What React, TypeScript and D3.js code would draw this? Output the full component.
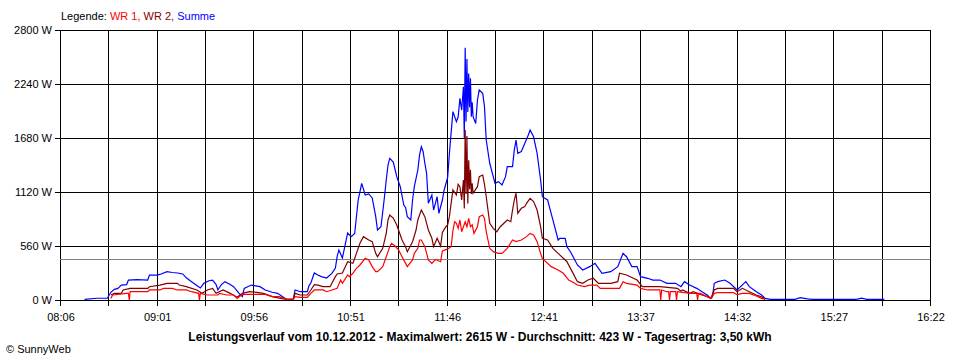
import React from 'react'
import * as d3 from 'd3'

// Achsen / Beschriftungen
const yTicks = [0, 560, 1120, 1680, 2240, 2800]
const xTickLabels = ['08:06', '09:01', '09:56', '10:51', '11:46', '12:41', '13:37', '14:32', '15:27', '16:22']
const timeStart = '08:06'
const timeEnd = '16:22'
const average = 423
const titleText = 'Leistungsverlauf vom 10.12.2012 - Maximalwert: 2615 W - Durchschnitt: 423 W - Tagesertrag: 3,50 kWh'

// Summe (blau)
const summe: [string, number][] = [
  ['08:20', 7], ['08:27', 18], ['08:33', 18], ['08:35', 80], ['08:37', 110], ['08:39', 120], ['08:41', 155], ['08:44', 160],
  ['08:45', 207], ['08:50', 212], ['08:56', 207], ['08:57', 259], ['09:01', 259], ['09:03', 265], ['09:07', 294], ['09:10', 285],
  ['09:13', 280], ['09:16', 270], ['09:18', 230], ['09:21', 190], ['09:24', 150], ['09:26', 124], ['09:28', 173], ['09:31', 200],
  ['09:33', 207], ['09:35', 160], ['09:36', 104], ['09:38', 160], ['09:40', 190], ['09:43', 160], ['09:45', 138], ['09:48', 72],
  ['09:50', 35], ['09:51', 121], ['09:55', 155], ['10:00', 138], ['10:03', 104], ['10:07', 80], ['10:10', 69], ['10:13', 35],
  ['10:15', 7], ['10:19', 7], ['10:20', 104], ['10:23', 86], ['10:27', 86], ['10:28', 150], ['10:29', 176], ['10:31', 280],
  ['10:33', 259], ['10:35', 242], ['10:38', 228], ['10:41', 276], ['10:43', 331], ['10:44', 450], ['10:45', 519], ['10:47', 436],
  ['10:50', 695], ['10:52', 657], ['10:54', 690], ['10:56', 1037], ['10:58', 1210], ['11:00', 1089], ['11:02', 1100], ['11:04', 1058],
  ['11:06', 864], ['11:07', 726], ['11:09', 760], ['11:11', 1071], ['11:12', 1245], ['11:13', 1400], ['11:14', 1469], ['11:16', 1430],
  ['11:18', 1279], ['11:20', 1175], ['11:22', 985], ['11:23', 960], ['11:24', 864], ['11:26', 830], ['11:27', 1037], ['11:28', 1175],
  ['11:30', 1348], ['11:31', 1504], ['11:32', 1590], ['11:33', 1540], ['11:34', 1418], ['11:35', 1314], ['11:36', 1003], ['11:38', 1089],
  ['11:39', 933], ['11:41', 1071], ['11:42', 898], ['11:44', 1037], ['11:45', 1141], ['11:47', 1270], ['11:48', 1521], ['11:50', 1953],
  ['11:52', 1849], ['11:53', 1900], ['11:54', 2091], ['11:55', 1970], ['11:56', 2212], ['11:56:30', 1680], ['11:57', 2615], ['11:57:30', 1850],
  ['11:58', 2500], ['11:58:30', 1950], ['11:59', 2350], ['11:59:30', 2000], ['12:00', 2300], ['12:00:30', 1900], ['12:01', 2050], ['12:01:30', 1901],
  ['12:03', 1831], ['12:04', 2074], ['12:05', 2178], ['12:07', 2143], ['12:08', 2004], ['12:09', 1659], ['12:11', 1418], ['12:13', 1279],
  ['12:14', 1210], ['12:16', 1227], ['12:18', 1193], ['12:20', 1279], ['12:21', 1383], ['12:24', 1383], ['12:25', 1556], ['12:26', 1659],
  ['12:27', 1521], ['12:29', 1540], ['12:31', 1625], ['12:33', 1711], ['12:34', 1763], ['12:36', 1694], ['12:38', 1521], ['12:40', 1245],
  ['12:41', 1071], ['12:44', 1037], ['12:47', 830], ['12:50', 622], ['12:51', 640], ['12:54', 640], ['12:55', 553], ['12:57', 501],
  ['13:01', 363], ['13:04', 311], ['13:08', 346], ['13:11', 380], ['13:15', 277], ['13:20', 294], ['13:24', 346], ['13:27', 484],
  ['13:29', 449], ['13:32', 346], ['13:35', 346], ['13:37', 242], ['13:41', 225], ['13:44', 207], ['13:48', 207], ['13:52', 173],
  ['13:57', 173], ['14:00', 138], ['14:02', 190], ['14:05', 155], ['14:09', 121], ['14:12', 86], ['14:15', 52], ['14:17', 17],
  ['14:18', 35], ['14:19', 173], ['14:21', 190], ['14:25', 207], ['14:28', 173], ['14:32', 104], ['14:37', 190], ['14:39', 138],
  ['14:43', 86], ['14:46', 52], ['14:48', 17], ['14:51', 7], ['15:05', 7], ['15:08', 25], ['15:12', 12], ['15:15', 7],
  ['15:40', 7], ['15:43', 20], ['15:46', 7], ['15:56', 7],
]

// WR 2 (dunkelrot)
const wr2: [string, number][] = [
  ['08:35', 52], ['08:37', 69], ['08:41', 69], ['08:42', 104], ['08:46', 121], ['08:56', 121], ['08:57', 138], ['09:03', 155],
  ['09:07', 173], ['09:13', 173], ['09:14', 155], ['09:18', 138], ['09:24', 104], ['09:27', 69], ['09:30', 104], ['09:33', 121],
  ['09:35', 69], ['09:39', 104], ['09:43', 69], ['09:47', 28], ['09:50', 69], ['09:54', 86], ['09:58', 80], ['10:02', 69],
  ['10:07', 35], ['10:11', 20], ['10:15', 7], ['10:19', 7], ['10:20', 69], ['10:23', 52], ['10:27', 52], ['10:29', 104],
  ['10:31', 160], ['10:33', 155], ['10:36', 138], ['10:40', 138], ['10:41', 173], ['10:43', 242], ['10:44', 270], ['10:47', 280],
  ['10:50', 397], ['10:53', 380], ['10:55', 484], ['10:57', 588], ['10:59', 657], ['11:02', 622], ['11:04', 605], ['11:06', 484],
  ['11:07', 449], ['11:10', 536], ['11:12', 691], ['11:13', 830], ['11:14', 881], ['11:16', 850], ['11:18', 778], ['11:20', 674],
  ['11:21', 622], ['11:23', 553], ['11:24', 501], ['11:27', 605], ['11:29', 726], ['11:30', 830], ['11:32', 933], ['11:34', 864],
  ['11:36', 726], ['11:38', 640], ['11:39', 553], ['11:41', 640], ['11:43', 560], ['11:44', 700], ['11:46', 760], ['11:47', 778],
  ['11:48', 864], ['11:50', 1141], ['11:52', 1089], ['11:53', 1200], ['11:54', 1175], ['11:55', 1037], ['11:56', 1245], ['11:56:30', 950],
  ['11:57', 1763], ['11:57:30', 1100], ['11:58', 1700], ['11:58:30', 1000], ['11:59', 1450], ['11:59:30', 1150], ['12:00', 1350], ['12:00:30', 1100],
  ['12:01', 1210], ['12:01:30', 1107], ['12:04', 1175], ['12:05', 1279], ['12:07', 1296], ['12:08', 1200], ['12:09', 1071], ['12:11', 795],
  ['12:13', 743], ['12:15', 708], ['12:17', 760], ['12:21', 830], ['12:23', 812], ['12:24', 933], ['12:25', 1037], ['12:26', 1107],
  ['12:27', 899], ['12:29', 951], ['12:31', 968], ['12:32', 1003], ['12:34', 1054], ['12:36', 1020], ['12:38', 933], ['12:40', 760],
  ['12:41', 640], ['12:44', 622], ['12:47', 536], ['12:50', 484], ['12:55', 397], ['12:58', 294], ['13:01', 190], ['13:04', 173],
  ['13:07', 207], ['13:10', 225], ['13:13', 173], ['13:20', 173], ['13:24', 190], ['13:25', 277], ['13:29', 259], ['13:35', 207],
  ['13:38', 138], ['13:48', 138], ['13:58', 121], ['14:00', 90], ['14:01', 104], ['14:05', 69], ['14:07', 86], ['14:12', 52],
  ['14:15', 35], ['14:17', 17], ['14:19', 104], ['14:21', 121], ['14:30', 121], ['14:32', 86], ['14:35', 121], ['14:39', 86],
  ['14:43', 52], ['14:47', 25], ['14:48', 7],
]

// WR 1 (rot)
const wr1: [string, number][] = [
  ['08:35', 17], ['08:36', 52], ['08:44', 69], ['08:45', 69], ['08:45:30', 0], ['08:46', 86], ['08:56', 86], ['08:57', 104],
  ['09:03', 104], ['09:05', 121], ['09:10', 121], ['09:13', 104], ['09:18', 104], ['09:21', 86], ['09:25', 69], ['09:25:30', 0],
  ['09:26', 69], ['09:30', 52], ['09:36', 52], ['09:37', 69], ['09:41', 52], ['09:45', 52], ['09:47', 17], ['09:50', 59],
  ['10:03', 59], ['10:07', 35], ['10:11', 35], ['10:15', 7], ['10:19', 7], ['10:20', 35], ['10:23', 28], ['10:27', 28],
  ['10:29', 69], ['10:31', 104], ['10:36', 104], ['10:38', 86], ['10:44', 121], ['10:46', 207], ['10:47', 173], ['10:50', 259],
  ['10:51', 242], ['10:53', 277], ['10:55', 329], ['10:57', 363], ['11:00', 432], ['11:02', 415], ['11:04', 346], ['11:06', 294],
  ['11:07', 294], ['11:10', 346], ['11:12', 449], ['11:14', 553], ['11:15', 588], ['11:17', 560], ['11:19', 519], ['11:21', 449],
  ['11:23', 380], ['11:24', 346], ['11:27', 415], ['11:28', 484], ['11:30', 536], ['11:31', 622], ['11:32', 622], ['11:34', 553],
  ['11:36', 415], ['11:38', 380], ['11:40', 420], ['11:43', 397], ['11:44', 510], ['11:47', 530], ['11:49', 553], ['11:50', 720],
  ['11:51', 812], ['11:52', 795], ['11:53', 743], ['11:54', 830], ['11:55', 708], ['11:57', 812], ['11:58', 760], ['11:59', 847],
  ['12:00', 760], ['12:01', 780], ['12:02', 691], ['12:04', 760], ['12:05', 864], ['12:07', 881], ['12:08', 847], ['12:09', 708],
  ['12:11', 536], ['12:13', 501], ['12:16', 484], ['12:18', 484], ['12:21', 536], ['12:24', 622], ['12:26', 605], ['12:29', 622],
  ['12:32', 657], ['12:34', 691], ['12:36', 674], ['12:38', 605], ['12:40', 484], ['12:41', 432], ['12:46', 346], ['12:50', 311],
  ['12:53', 277], ['12:56', 207], ['12:58', 190], ['13:01', 155], ['13:05', 138], ['13:08', 155], ['13:12', 155], ['13:14', 121],
  ['13:25', 121], ['13:27', 190], ['13:29', 173], ['13:35', 155], ['13:37', 121], ['13:41', 104], ['13:48', 104], ['13:48:30', 0],
  ['13:49', 104], ['13:52', 86], ['13:53', 86], ['13:53:30', 0], ['13:54', 86], ['13:57', 86], ['13:57:30', 0], ['13:58', 86],
  ['14:05', 69], ['14:09', 69], ['14:09:30', 0], ['14:10', 69], ['14:11', 69], ['14:15', 35], ['14:17', 17], ['14:18', 40],
  ['14:19', 69], ['14:21', 76], ['14:30', 76], ['14:32', 55], ['14:35', 69], ['14:39', 69], ['14:43', 41], ['14:46', 17],
  ['14:48', 7],
]

const toMin = (s: string) => {
  const p = s.split(':').map(Number)
  return p[0] * 60 + p[1] + (p[2] || 0) / 60
}

const FONT = '"Liberation Sans", Arial, sans-serif'

export default function App() {
  const margin = { top: 30, right: 30, bottom: 60, left: 60 }
  const width = 960
  const height = 360

  const x = d3.scaleLinear()
    .domain([toMin(timeStart), toMin(timeEnd)])
    .range([margin.left, width - margin.right])
  const y = d3.scaleLinear()
    .domain([0, 2800])
    .range([height - margin.bottom, margin.top])

  const line = d3.line<[string, number]>()
    .x(d => x(toMin(d[0])))
    .y(d => y(d[1]))

  // 18 Intervalle, jede zweite Linie beschriftet
  const nGrid = (xTickLabels.length - 1) * 2
  const gridTimes = d3.range(nGrid + 1).map(i => toMin(timeStart) + i * (toMin(timeEnd) - toMin(timeStart)) / nGrid)
  const crisp = (v: number) => Math.round(v) + 0.5
  const x0 = margin.left
  const x1 = width - margin.right
  const yBottom = height - margin.bottom

  return (
    <svg width={width} height={height} style={{ position: 'absolute', left: 0, top: 0, background: '#fff' }}
      fontFamily={FONT} fontSize={11}>
      {/* Legende */}
      <text x={61} y={20}>
        <tspan fill="#000">Legende: </tspan>
        <tspan fill="#ff0000">WR 1, </tspan>
        <tspan fill="#800000">WR 2, </tspan>
        <tspan fill="#0000ff">Summe</tspan>
      </text>

      {/* horizontale Gitterlinien */}
      {yTicks.map(v => (
        <g key={v}>
          <line x1={x0 - 5} x2={x1} y1={crisp(y(v))} y2={crisp(y(v))} stroke="#000" shapeRendering="crispEdges" />
          <text x={52} y={y(v) + 4} textAnchor="end">{v} W</text>
        </g>
      ))}

      {/* vertikale Gitterlinien */}
      {gridTimes.map((t, i) => (
        <line key={i} x1={crisp(x(t))} x2={crisp(x(t))} y1={margin.top} y2={yBottom + 6}
          stroke="#000" shapeRendering="crispEdges" />
      ))}
      {xTickLabels.map((lab, i) => (
        <text key={lab} x={x(gridTimes[i * 2]) + 1} y={321} textAnchor="middle">{lab}</text>
      ))}

      {/* Durchschnitt */}
      <line x1={x0} x2={x1} y1={crisp(y(average))} y2={crisp(y(average))} stroke="#808080" shapeRendering="crispEdges" />

      {/* Kurven */}
      <path d={line(summe) || ''} fill="none" stroke="#0000ff" strokeWidth={1.2} />
      <path d={line(wr2) || ''} fill="none" stroke="#800000" strokeWidth={1.2} />
      <path d={line(wr1) || ''} fill="none" stroke="#ff0000" strokeWidth={1.2} />

      <text x={480} y={341} textAnchor="middle" fontWeight="bold" fontSize={12}>{titleText}</text>
      <text x={6} y={353}>© SunnyWeb</text>
    </svg>
  )
}
